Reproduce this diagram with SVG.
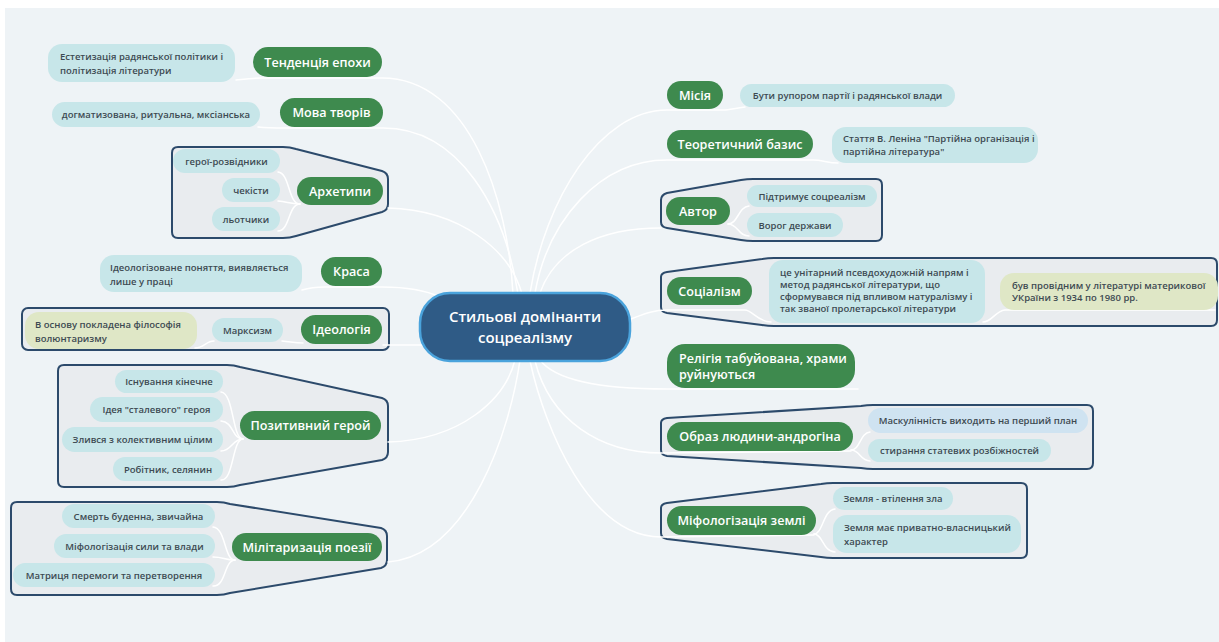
<svg xmlns="http://www.w3.org/2000/svg" width="1219" height="642" viewBox="0 0 1219 642">
<style>
.conn{fill:none;stroke:#ffffff;stroke-width:1.5;stroke-linecap:round}
.bnd{fill:#e9ecef;stroke:#2c4a6b;stroke-width:2;stroke-linejoin:round}
.main{fill:#3e8a4e}
.child{fill:#c7e6e9}
.olive{fill:#dfe7c6}
.blue{fill:#cfe3f1}
.mt{font-family:"Open Sans","Noto Sans",sans-serif;font-weight:600;font-size:12.6px;fill:#ffffff}
.ct{font-family:"Open Sans","Noto Sans",sans-serif;font-weight:600;font-size:9.5px;fill:#3d4a52}
.c{text-anchor:middle}
</style>
<rect x="0" y="0" width="1219" height="642" fill="#ffffff"/>
<rect x="5" y="8" width="1214" height="634" fill="#eef3f6"/>

<g id="boundaries">
<path class="bnd" d="M 178 147 L 283 147 Q 290 147 296 149 L 382 171 Q 388 173 388 179 L 388 204 Q 388 210 382 212 L 296 236 Q 290 238 283 238 L 178 238 Q 172 238 172 232 L 172 153 Q 172 147 178 147 Z"/>
<rect class="bnd" x="22" y="308" width="367" height="42" rx="6"/>
<path class="bnd" d="M 64 365 L 227 365 Q 234 365 240 367 L 382 398 Q 388 400 388 406 L 388 452 Q 388 458 382 460 L 240 485 Q 234 487 227 487 L 64 487 Q 58 487 58 481 L 58 371 Q 58 365 64 365 Z"/>
<path class="bnd" d="M 17 502 L 217 502 Q 224 502 230 504 L 381 528 Q 387 530 387 536 L 387 560 Q 387 566 381 568 L 230 593 Q 224 595 217 595 L 17 595 Q 11 595 11 589 L 11 508 Q 11 502 17 502 Z"/>
<path class="bnd" d="M 661 200 Q 661 195 667 193 L 741 180 Q 747 179 753 179 L 876 179 Q 882 179 882 185 L 882 235 Q 882 241 876 241 L 753 241 Q 747 241 741 240 L 667 228 Q 661 227 661 222 Z"/>
<path class="bnd" d="M 661 277 Q 661 273 667 272 L 762 259 Q 768 258 774 258 L 1211 258 Q 1217 258 1217 264 L 1217 320 Q 1217 326 1211 326 L 774 326 Q 768 326 762 325 L 667 313 Q 661 312 661 307 Z"/>
<path class="bnd" d="M 661 423 Q 661 419 667 418 L 861 406 Q 867 405 873 405 L 1087 405 Q 1093 405 1093 411 L 1093 463 Q 1093 469 1087 469 L 873 469 Q 867 469 861 468 L 667 456 Q 661 455 661 450 Z"/>
<path class="bnd" d="M 661 508 Q 661 504 667 503 L 821 484 Q 827 483 833 483 L 1021 483 Q 1027 483 1027 489 L 1027 552 Q 1027 558 1021 558 L 833 558 Q 827 558 821 557 L 667 539 Q 661 538 661 533 Z"/>
</g>

<g id="connectors">
<path class="conn" d="M 236 80 C 245 79 250 78 262 78 L 382 78 C 470 78 508 200 513 294"/>
<path class="conn" d="M 258 127 Q 268 128 285 128 L 383 128 C 460 128 505 210 518 294"/>
<path class="conn" d="M 388 208 C 460 210 510 250 522 294"/>
<path class="conn" d="M 302 290 Q 312 287 325 287 L 382 287 C 405 287 425 290 440 297"/>
<path class="conn" d="M 383 345 L 424 345"/>
<path class="conn" d="M 388 442 C 460 440 505 400 515 360"/>
<path class="conn" d="M 388 562 C 470 555 510 430 520 360"/>
<path class="conn" d="M 300 204 C 288 204 290 173 278 172"/>
<path class="conn" d="M 300 204 C 290 204 288 202 278 201"/>
<path class="conn" d="M 300 204 C 288 204 290 231 278 231"/>
<path class="conn" d="M 303 343 C 295 343 292 342 282 341"/>
<path class="conn" d="M 214 341 C 206 341 204 348 195 348"/>
<path class="conn" d="M 243 439 C 232 439 234 393 221 392"/>
<path class="conn" d="M 243 439 C 232 439 234 422 221 421"/>
<path class="conn" d="M 243 439 C 232 439 232 451 221 451"/>
<path class="conn" d="M 243 439 C 232 439 234 481 221 480"/>
<path class="conn" d="M 235 560 C 224 560 226 528 213 527"/>
<path class="conn" d="M 235 560 C 224 560 224 557 213 557"/>
<path class="conn" d="M 235 560 C 224 560 226 587 213 586"/>
<path class="conn" d="M 530 293 C 545 200 600 110 667 110 L 723 110 C 730 110 735 108 745 107"/>
<path class="conn" d="M 535 293 C 548 220 600 160 667 160 L 813 160 C 822 160 828 163 838 163"/>
<path class="conn" d="M 540 293 C 555 250 600 228 661 228"/>
<path class="conn" d="M 728 224 C 738 224 738 207 749 206"/>
<path class="conn" d="M 728 224 C 738 224 738 236 749 236"/>
<path class="conn" d="M 628 320 C 640 316 650 310 667 310 L 745 310 C 752 310 758 322 771 322"/>
<path class="conn" d="M 983 322 C 992 322 995 311 1005 310 L 1215 310"/>
<path class="conn" d="M 540 360 C 555 380 600 389 667 389 L 858 389"/>
<path class="conn" d="M 535 361 C 550 420 600 453 661 453 L 851 451"/>
<path class="conn" d="M 851 450 C 860 450 860 433 870 432"/>
<path class="conn" d="M 851 450 C 860 450 860 461 870 461"/>
<path class="conn" d="M 530 361 C 545 430 590 537 661 537 L 814 535"/>
<path class="conn" d="M 814 534 C 823 534 823 510 835 509"/>
<path class="conn" d="M 814 534 C 823 534 823 552 835 552"/>
</g>

<g id="center">
<rect x="420" y="293" width="210" height="68" rx="30" fill="#2f5b86" stroke="#4aa3dc" stroke-width="2.5"/>
<text x="525" y="322" class="c" font-family="Open Sans, Noto Sans, sans-serif" font-weight="600" font-size="15" fill="#ffffff">Стильові домінанти</text>
<text x="525" y="343" class="c" font-family="Open Sans, Noto Sans, sans-serif" font-weight="600" font-size="15" fill="#ffffff">соцреалізму</text>
</g>

<g id="tendentsiia">
<rect class="main" x="253" y="47" width="129" height="30" rx="15"/>
<text class="mt c" x="317.5" y="66.5">Тенденція епохи</text>
</g>
<g id="tendentsiia-child">
<rect class="child" x="48" y="44" width="187" height="38" rx="14"/>
<text class="ct" x="60" y="60">Естетизація радянської політики і</text>
<text class="ct" x="60" y="74">політизація літератури</text>
</g>
<g id="mova">
<rect class="main" x="280" y="98" width="103" height="29" rx="14.5"/>
<text class="mt c" x="331.5" y="117">Мова творів</text>
</g>
<g id="mova-child">
<rect class="child" x="52" y="102" width="208" height="25" rx="12.5"/>
<text class="ct c" x="156" y="118">догматизована, ритуальна, мксіанська</text>
</g>

<g id="arkhetypy">
<rect class="main" x="297" y="177" width="86" height="28" rx="14"/>
<text class="mt c" x="340" y="195.5">Архетипи</text>
</g>
<g id="arkh-1"><rect class="child" x="173" y="149" width="107" height="24" rx="12"/><text class="ct c" x="226.5" y="165">герої-розвідники</text></g>
<g id="arkh-2"><rect class="child" x="222" y="178" width="58" height="24" rx="12"/><text class="ct c" x="251" y="194">чекісти</text></g>
<g id="arkh-3"><rect class="child" x="212" y="207" width="68" height="24" rx="12"/><text class="ct c" x="246" y="223">льотчики</text></g>

<g id="krasa">
<rect class="main" x="321" y="257" width="61" height="29" rx="14.5"/>
<text class="mt c" x="351.5" y="276">Краса</text>
</g>
<g id="krasa-child">
<rect class="child" x="100" y="255" width="202" height="37" rx="14"/>
<text class="ct" x="110" y="271">Ідеологізоване поняття, виявляється</text>
<text class="ct" x="110" y="285">лише у праці</text>
</g>

<g id="ideolohiia">
<rect class="main" x="301" y="315" width="81" height="29" rx="14.5"/>
<text class="mt c" x="341.5" y="334">Ідеологія</text>
</g>
<g id="marksyzm"><rect class="child" x="212" y="318" width="71" height="24" rx="12"/><text class="ct c" x="247.5" y="334">Марксизм</text></g>
<g id="voliuntaryzm">
<rect class="olive" x="25" y="312" width="172" height="37" rx="14"/>
<text class="ct" x="35" y="328">В основу покладена філософія</text>
<text class="ct" x="35" y="342">волюнтаризму</text>
</g>

<g id="pozytyvnyi">
<rect class="main" x="240" y="411" width="141" height="29" rx="14.5"/>
<text class="mt c" x="310.5" y="430">Позитивний герой</text>
</g>
<g id="poz-1"><rect class="child" x="115" y="370" width="108" height="23" rx="11.5"/><text class="ct c" x="169" y="385">Існування кінечне</text></g>
<g id="poz-2"><rect class="child" x="90" y="397" width="133" height="25" rx="12.5"/><text class="ct c" x="156.5" y="413">Ідея "сталевого" героя</text></g>
<g id="poz-3"><rect class="child" x="62" y="427" width="161" height="25" rx="12.5"/><text class="ct c" x="142.5" y="443">Злився з колективним цілим</text></g>
<g id="poz-4"><rect class="child" x="113" y="457" width="110" height="24" rx="12"/><text class="ct c" x="168" y="473">Робітник, селянин</text></g>

<g id="militaryzatsiia">
<rect class="main" x="232" y="533" width="150" height="28" rx="14"/>
<text class="mt c" x="307" y="551.5">Мілітаризація поезії</text>
</g>
<g id="mil-1"><rect class="child" x="62" y="504" width="153" height="24" rx="12"/><text class="ct c" x="138.5" y="520">Смерть буденна, звичайна</text></g>
<g id="mil-2"><rect class="child" x="54" y="534" width="161" height="24" rx="12"/><text class="ct c" x="134.5" y="550">Міфологізація сили та влади</text></g>
<g id="mil-3"><rect class="child" x="13" y="563" width="202" height="24" rx="12"/><text class="ct c" x="114" y="579">Матриця перемоги та перетворення</text></g>

<g id="misiia">
<rect class="main" x="667" y="81" width="56" height="28" rx="14"/>
<text class="mt c" x="695" y="99.5">Місія</text>
</g>
<g id="misiia-child"><rect class="child" x="740" y="84" width="215" height="23" rx="11.5"/><text class="ct c" x="847.5" y="99">Бути рупором партії і радянської влади</text></g>

<g id="teoretychnyi">
<rect class="main" x="667" y="130" width="146" height="28" rx="14"/>
<text class="mt c" x="740" y="148.5">Теоретичний базис</text>
</g>
<g id="teor-child">
<rect class="child" x="832" y="127" width="206" height="36" rx="14"/>
<text class="ct" x="843" y="142">Стаття В. Леніна "Партійна організація і</text>
<text class="ct" x="843" y="155">партійна література"</text>
</g>

<g id="avtor">
<rect class="main" x="666" y="197" width="64" height="28" rx="14"/>
<text class="mt c" x="698" y="215.5">Автор</text>
</g>
<g id="avtor-1"><rect class="child" x="747" y="185" width="130" height="22" rx="11"/><text class="ct c" x="812" y="200">Підтримує соцреалізм</text></g>
<g id="avtor-2"><rect class="child" x="747" y="213" width="96" height="24" rx="12"/><text class="ct c" x="795" y="229">Ворог держави</text></g>

<g id="sotsializm">
<rect class="main" x="667" y="277" width="85" height="28" rx="14"/>
<text class="mt c" x="709.5" y="295.5">Соціалізм</text>
</g>
<g id="sots-1">
<rect class="child" x="769" y="260" width="216" height="63" rx="14"/>
<text class="ct" x="780" y="276">це унітарний псевдохудожній напрям і</text>
<text class="ct" x="780" y="288">метод радянської літератури, що</text>
<text class="ct" x="780" y="300">сформувався під впливом натуралізму і</text>
<text class="ct" x="780" y="312">так званої пролетарської літератури</text>
</g>
<g id="sots-2">
<rect class="olive" x="1000" y="273" width="218" height="37" rx="14"/>
<text class="ct" x="1012" y="289">був провідним у літературі материкової</text>
<text class="ct" x="1012" y="301">УКраїни з 1934 по 1980 рр.</text>
</g>

<g id="relihiia">
<rect class="main" x="667" y="344" width="188" height="44" rx="18"/>
<text class="mt" x="679" y="363">Релігія табуйована, храми</text>
<text class="mt" x="679" y="379">руйнуються</text>
</g>

<g id="obraz">
<rect class="main" x="667" y="422" width="186" height="29" rx="14.5"/>
<text class="mt c" x="760" y="441">Образ людини-андрогіна</text>
</g>
<g id="obraz-1"><rect class="blue" x="868" y="408" width="220" height="25" rx="12.5"/><text class="ct c" x="978" y="424">Маскулінність виходить на перший план</text></g>
<g id="obraz-2"><rect class="child" x="868" y="439" width="183" height="23" rx="11.5"/><text class="ct c" x="959.5" y="454">стирання статевих розбіжностей</text></g>

<g id="zemlia">
<rect class="main" x="667" y="506" width="149" height="29" rx="14.5"/>
<text class="mt c" x="741.5" y="525">Міфологізація землі</text>
</g>
<g id="zemlia-1"><rect class="child" x="833" y="487" width="120" height="23" rx="11.5"/><text class="ct c" x="893" y="502">Земля - втілення зла</text></g>
<g id="zemlia-2">
<rect class="child" x="833" y="515" width="188" height="38" rx="14"/>
<text class="ct" x="844" y="531">Земля має приватно-власницький</text>
<text class="ct" x="844" y="545">характер</text>
</g>
</svg>
